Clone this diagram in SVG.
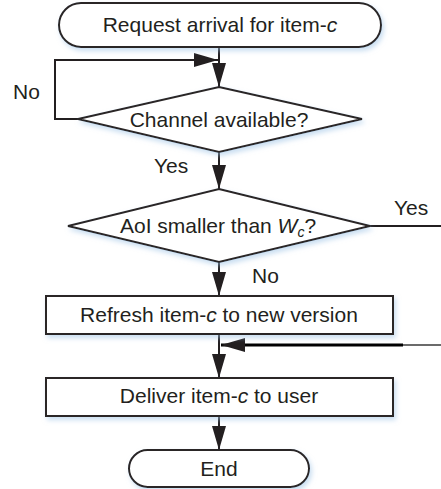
<svg xmlns="http://www.w3.org/2000/svg" width="441" height="489" viewBox="0 0 441 489">
<style>
.shape{fill:#fff;stroke:#2b2728;stroke-width:2}
.line{fill:none;stroke:#231f20;stroke-width:2}
.t{font-family:"Liberation Sans",Arial,sans-serif;font-size:21px;fill:#231f20}
.c{text-anchor:middle}
</style>
<defs>
<filter id="sh" x="-10%" y="-20%" width="125%" height="160%">
<feDropShadow dx="2" dy="3" stdDeviation="2.5" flood-color="#9cc2e5" flood-opacity="0.55"/>
</filter>
<marker id="ah" markerUnits="userSpaceOnUse" markerWidth="24" markerHeight="14" refX="24" refY="7" orient="auto">
<path d="M0,0 L24,7 L0,14 z" fill="#231f20"/>
</marker>
</defs>
<g id="connectors">
<line class="line" x1="219" y1="48" x2="219" y2="87" marker-end="url(#ah)"/>
<path class="line" d="M78,119 H55 V60 H218" marker-end="url(#ah)"/>
<line class="line" x1="219" y1="152" x2="219" y2="189" marker-end="url(#ah)"/>
<line class="line" x1="370" y1="226" x2="441" y2="226"/>
<line class="line" x1="219" y1="262" x2="219" y2="296" marker-end="url(#ah)"/>
<line class="line" x1="219" y1="334" x2="219" y2="378" marker-end="url(#ah)"/>
<line x1="441" y1="345" x2="402" y2="345" stroke="#6b6b6b" stroke-width="2"/>
<line x1="403" y1="345" x2="221" y2="345" stroke="#000" stroke-width="3" marker-end="url(#ah)"/>
<line class="line" x1="219" y1="416" x2="219" y2="450" marker-end="url(#ah)"/>
</g>
<g id="start">
<rect class="shape" filter="url(#sh)" x="59" y="3" width="322" height="44" rx="22" ry="22"/>
<text class="t c" x="220" y="32">Request arrival for item-<tspan font-style="italic">c</tspan></text>
</g>
<g id="channel">
<polygon class="shape" filter="url(#sh)" points="219,87 362,119 219,152 78,119"/>
<text class="t c" x="219" y="127">Channel available?</text>
</g>
<g id="labels">
<text class="t" x="13" y="99">No</text>
<text class="t" x="154" y="173">Yes</text>
<text class="t" x="394" y="215">Yes</text>
<text class="t" x="252" y="283">No</text>
</g>
<g id="aoi">
<polygon class="shape" filter="url(#sh)" points="219,189 370,226 219,262 68,226"/>
<text class="t" x="120" y="233">AoI smaller than <tspan font-style="italic">W</tspan><tspan font-style="italic" font-size="14" dy="4">c</tspan><tspan dy="-4">?</tspan></text>
</g>
<g id="refresh">
<rect class="shape" filter="url(#sh)" x="46" y="296" width="347" height="38"/>
<text class="t c" x="219" y="322">Refresh item-<tspan font-style="italic">c</tspan> to new version</text>
</g>
<g id="deliver">
<rect class="shape" filter="url(#sh)" x="46" y="378" width="347" height="38"/>
<text class="t c" x="219" y="403">Deliver item-<tspan font-style="italic">c</tspan> to user</text>
</g>
<g id="end">
<rect class="shape" filter="url(#sh)" x="129" y="450" width="180" height="37" rx="18.5" ry="18.5"/>
<text class="t c" x="219" y="476">End</text>
</g>
</svg>
